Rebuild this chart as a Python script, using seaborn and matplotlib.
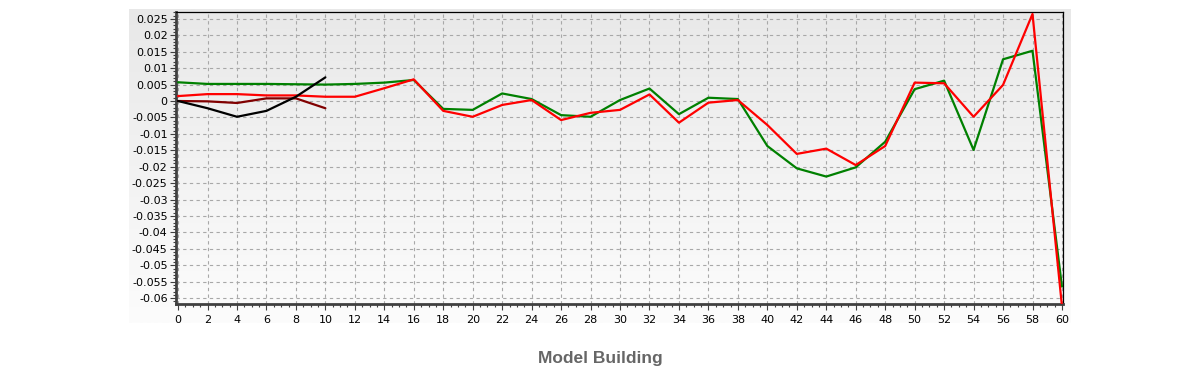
import numpy as np
import pandas as pd
import matplotlib
matplotlib.use('Agg')
import matplotlib.pyplot as plt
import seaborn as sns
from matplotlib.ticker import MultipleLocator, FuncFormatter

# values
x_long = list(range(0, 61, 2))
green = [0.0057, 0.0052, 0.0052, 0.0052, 0.0051, 0.0050, 0.0052, 0.0056, 0.0064,
         -0.0024, -0.0027, 0.0023, 0.0006, -0.0043, -0.0048,
         0.0003, 0.0038, -0.0040, 0.0010, 0.0006,
         -0.0137, -0.0205, -0.0230, -0.0202, -0.0124,
         0.0036, 0.0062, -0.0149, 0.0127, 0.0153, -0.0565]
red = [0.0015, 0.0021, 0.0021, 0.0017, 0.0017, 0.0013, 0.0013, 0.0039, 0.0066,
       -0.0030, -0.0048, -0.0012, 0.0003, -0.0058, -0.0036,
       -0.0027, 0.0020, -0.0066, -0.0005, 0.0003,
       -0.0073, -0.0161, -0.0145, -0.0195, -0.0137,
       0.0056, 0.0054, -0.0048, 0.0049, 0.0265, -0.0625]
x_short = list(range(0, 11, 2))
black = [0.0, -0.0022, -0.0048, -0.0030, 0.0013, 0.0072]
darkred = [0.0, -0.0001, -0.0006, 0.0008, 0.0008, -0.0022]

title = 'Model Building'

sns.set_theme(style='white')
plt.rcParams['font.family'] = ['DejaVu Sans']

fig = plt.figure(figsize=(12, 3.8), dpi=100)
fig.patch.set_facecolor('white')

# light gradient panel behind the chart
bg = fig.add_axes([129/1200, 1 - 323/380, 942/1200, 314/380], zorder=0)
grad = np.linspace(0, 1, 256).reshape(-1, 1)
bg.imshow(grad, aspect='auto', cmap=matplotlib.colors.LinearSegmentedColormap.from_list(
    'bg', ['#e8e8e8', '#fcfcfc']), extent=[0, 1, 0, 1], origin='upper')
bg.axis('off')

ax = fig.add_axes([176/1200, 1 - 304/380, 887/1200, 292/380], zorder=1)
ax.set_xlim(-0.14, 60.07)
ax.set_ylim(-0.0618, 0.0271)
ax.imshow(grad, aspect='auto', cmap=matplotlib.colors.LinearSegmentedColormap.from_list(
    'pa', ['#e9e9e9', '#fbfbfb']), extent=[-0.14, 60.07, -0.0618, 0.0271],
    origin='upper', zorder=0)

ax.grid(True, color='#a8a8a8', linestyle=(0, (3, 3)), linewidth=0.8, zorder=1)

long_df = pd.DataFrame({'x': x_long, 'green': green, 'red': red})
short_df = pd.DataFrame({'x': x_short, 'black': black, 'darkred': darkred})
sns.lineplot(data=long_df, x='x', y='green', color='#008000', linewidth=1.6, ax=ax, zorder=3)
sns.lineplot(data=long_df, x='x', y='red', color='#ff0000', linewidth=1.6, ax=ax, zorder=4)
sns.lineplot(data=short_df, x='x', y='darkred', color='#800000', linewidth=1.6, ax=ax, zorder=5)
sns.lineplot(data=short_df, x='x', y='black', color='#000000', linewidth=1.6, ax=ax, zorder=6)

ax.set_xlim(-0.14, 60.07)
ax.set_ylim(-0.0618, 0.0271)
ax.set_xlabel('')
ax.set_ylabel('')

ax.xaxis.set_major_locator(MultipleLocator(2))
ax.xaxis.set_minor_locator(MultipleLocator(0.5))
ax.yaxis.set_major_locator(MultipleLocator(0.005))
ax.yaxis.set_minor_locator(MultipleLocator(0.001))


def yfmt(v, pos):
    v = round(v, 4)
    if abs(v) < 1e-9:
        return '0'
    return f'{v:g}'


ax.yaxis.set_major_formatter(FuncFormatter(yfmt))
ax.tick_params(axis='both', which='major', direction='out', length=4, width=0.8,
               color='#404040', labelsize=8, labelcolor='black', pad=2, bottom=True, left=True)
ax.tick_params(axis='x', which='major', pad=4)
ax.tick_params(axis='both', which='minor', direction='out', length=2, width=0.8,
               color='#404040', bottom=True, left=True)

for side in ['top', 'right']:
    ax.spines[side].set_color('black')
    ax.spines[side].set_linewidth(0.9)
for side in ['left', 'bottom']:
    ax.spines[side].set_color('#404040')
    ax.spines[side].set_linewidth(2.0)

fig.text(0.5, 1 - 358/380, title, ha='center', va='center', fontsize=12.5,
         fontweight='bold', color='#666666', family=['Liberation Sans', 'DejaVu Sans'])

fig.savefig('out.png', dpi=100, facecolor='white')
